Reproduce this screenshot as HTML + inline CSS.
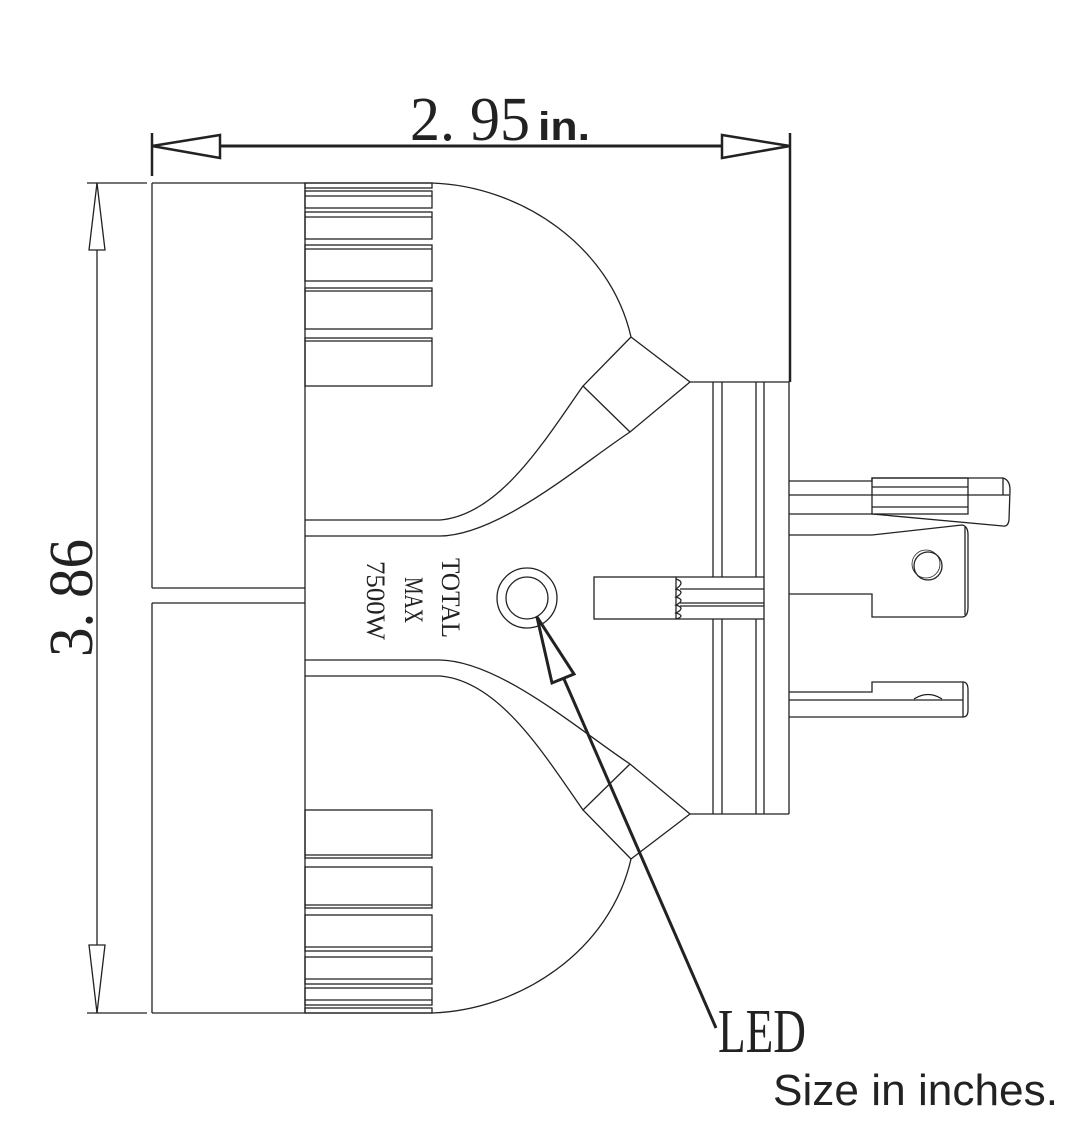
<!DOCTYPE html>
<html><head><meta charset="utf-8"><style>html,body{margin:0;padding:0;background:#fff}svg{display:block}</style></head>
<body>
<svg width="1075" height="1123" viewBox="0 0 1075 1123" xmlns="http://www.w3.org/2000/svg">
<g fill="none" stroke="#222" stroke-width="1.3">
<!-- width dimension -->
<line x1="152" y1="146" x2="790" y2="146" stroke-width="3"/>
<line x1="152" y1="133" x2="152" y2="176" stroke-width="2.5"/>
<line x1="790" y1="133" x2="790" y2="382" stroke-width="2.5"/>
<polygon points="152,146 220,135 220,158" fill="#fff" stroke-width="2.5"/>
<polygon points="790,146 722,135 722,158" fill="#fff" stroke-width="2.5"/>
<!-- height dimension -->
<line x1="97" y1="183" x2="97" y2="1013"/>
<line x1="87" y1="183" x2="147" y2="183"/>
<line x1="87" y1="1013" x2="147" y2="1013"/>
<polygon points="97,183 89,250 105,250" fill="#fff"/>
<polygon points="97,1013 89,945 105,945" fill="#fff"/>
<!-- left body -->
<line x1="152" y1="183" x2="432" y2="183"/>
<line x1="152" y1="1013" x2="432" y2="1013"/>
<line x1="152" y1="183" x2="152" y2="588"/>
<line x1="152" y1="603" x2="152" y2="1013"/>
<line x1="152" y1="588" x2="305" y2="588"/>
<line x1="152" y1="603" x2="305" y2="603"/>
<line x1="305" y1="183" x2="305" y2="1013"/>
<!-- top ribs -->
<rect x="305" y="183" width="127" height="5"/>
<rect x="305" y="191" width="127" height="17"/><line x1="305" y1="196" x2="432" y2="196"/>
<rect x="305" y="212" width="127" height="27"/><line x1="305" y1="217" x2="432" y2="217"/>
<rect x="305" y="245" width="127" height="36"/><line x1="305" y1="249" x2="432" y2="249"/>
<rect x="305" y="288" width="127" height="41"/><line x1="305" y1="291" x2="432" y2="291"/>
<rect x="305" y="338" width="127" height="48"/><line x1="305" y1="341" x2="432" y2="341"/>
<!-- bottom ribs -->
<rect x="305" y="1008" width="127" height="5"/>
<rect x="305" y="988" width="127" height="17"/><line x1="305" y1="1000" x2="432" y2="1000"/>
<rect x="305" y="957" width="127" height="27"/><line x1="305" y1="979" x2="432" y2="979"/>
<rect x="305" y="915" width="127" height="36"/><line x1="305" y1="947" x2="432" y2="947"/>
<rect x="305" y="867" width="127" height="41"/><line x1="305" y1="905" x2="432" y2="905"/>
<rect x="305" y="810" width="127" height="48"/><line x1="305" y1="855" x2="432" y2="855"/>
<!-- top receptacle curves -->
<path d="M432,183 C520,186 610,245 631,337 L690,382"/>
<path d="M305,520 L440,520 C500,515 545,440 583,386 L631,337"/>
<path d="M305,536 L440,536 C500,535 580,465 630,432 L690,382"/>
<line x1="583" y1="386" x2="630" y2="432"/>
<!-- bottom receptacle curves -->
<path d="M432,1013 C520,1010 610,951 631,859 L690,814"/>
<path d="M305,676 L440,676 C500,681 545,756 583,810 L631,859"/>
<path d="M305,660 L440,660 C500,661 580,731 630,764 L690,814"/>
<line x1="583" y1="810" x2="630" y2="764"/>
<!-- collar -->
<line x1="690" y1="382" x2="789" y2="382"/>
<line x1="690" y1="814" x2="789" y2="814"/>
<line x1="713" y1="382" x2="713" y2="577"/><line x1="713" y1="619" x2="713" y2="814"/>
<line x1="722" y1="382" x2="722" y2="577"/><line x1="722" y1="619" x2="722" y2="814"/>
<line x1="756" y1="382" x2="756" y2="577"/><line x1="756" y1="619" x2="756" y2="814"/>
<line x1="764" y1="382" x2="764" y2="814"/>
<line x1="789" y1="382" x2="789" y2="814"/>
<!-- stub -->
<rect x="594" y="577" width="82" height="42"/>
<line x1="676" y1="577" x2="764" y2="577"/>
<line x1="676" y1="619" x2="764" y2="619"/>
<line x1="680" y1="589" x2="764" y2="589"/>
<line x1="680" y1="603" x2="764" y2="603"/>
<line x1="680" y1="606" x2="764" y2="606"/>
<path d="M676,579 q10,3 0,10 q10,3 0,8 q10,3 0,8 q10,3 0,8 q10,3 0,6"/>
<!-- top prong -->
<path d="M789,481 L872,481 L872,478 L1003,478 Q1010,480 1010,490 L1009,520 Q1008,527 1003,526 L872,514 L789,514"/>
<line x1="789" y1="495" x2="1009" y2="495"/>
<line x1="1003" y1="478" x2="1003" y2="495"/>
<rect x="872" y="478" width="96" height="36"/>
<line x1="872" y1="487" x2="968" y2="487"/>
<line x1="872" y1="507" x2="968" y2="507"/>
<!-- middle prong -->
<path d="M789,535 L872,535 L962,525 Q968,526 968,535 L968,607 Q968,617 962,617 L872,617 L872,594 L789,594"/>
<line x1="965" y1="527" x2="965" y2="615"/>
<circle cx="928" cy="566" r="14"/>
<circle cx="926" cy="564" r="14" stroke-width="0.8"/>
<!-- bottom prong -->
<path d="M789,692 L872,692 L872,682 L963,682 Q968,682 968,690 L968,710 Q968,717 963,717 L789,717"/>
<line x1="789" y1="700" x2="963" y2="700"/>
<line x1="963" y1="700" x2="963" y2="717"/>
<line x1="963" y1="682" x2="963" y2="700"/>
<path d="M914,699 Q928,690 942,699"/>
<!-- LED -->
<circle cx="527" cy="598" r="30"/>
<circle cx="527" cy="598" r="21"/>
<line x1="537" y1="617" x2="716" y2="1028" stroke-width="3"/>
<polygon points="537,617 552,683 574,674" fill="#fff" stroke-width="3"/>
</g>
<g fill="#222">
<text x="410" y="140" font-family="Liberation Serif, serif" font-size="62" textLength="120" lengthAdjust="spacingAndGlyphs">2. 95</text>
<text x="538" y="140" font-family="Liberation Sans, sans-serif" font-size="40" font-weight="bold" textLength="52" lengthAdjust="spacingAndGlyphs">in.</text>
<text transform="translate(92,657) rotate(-90)" font-family="Liberation Serif, serif" font-size="62" textLength="118" lengthAdjust="spacingAndGlyphs">3. 86</text>
<g font-family="Liberation Serif, serif" font-size="26">
<text transform="translate(442,558) rotate(90)" textLength="80" lengthAdjust="spacingAndGlyphs">TOTAL</text>
<text transform="translate(405,577) rotate(90)" textLength="46" lengthAdjust="spacingAndGlyphs">MAX</text>
<text transform="translate(367,561) rotate(90)" textLength="79" lengthAdjust="spacingAndGlyphs">7500W</text>
</g>
<text x="718" y="1052" font-family="Liberation Serif, serif" font-size="62" textLength="88" lengthAdjust="spacingAndGlyphs">LED</text>
<text x="773" y="1105" font-family="Liberation Sans, sans-serif" font-size="44" textLength="285" lengthAdjust="spacingAndGlyphs">Size in inches.</text>
</g>
</svg>
</body></html>
